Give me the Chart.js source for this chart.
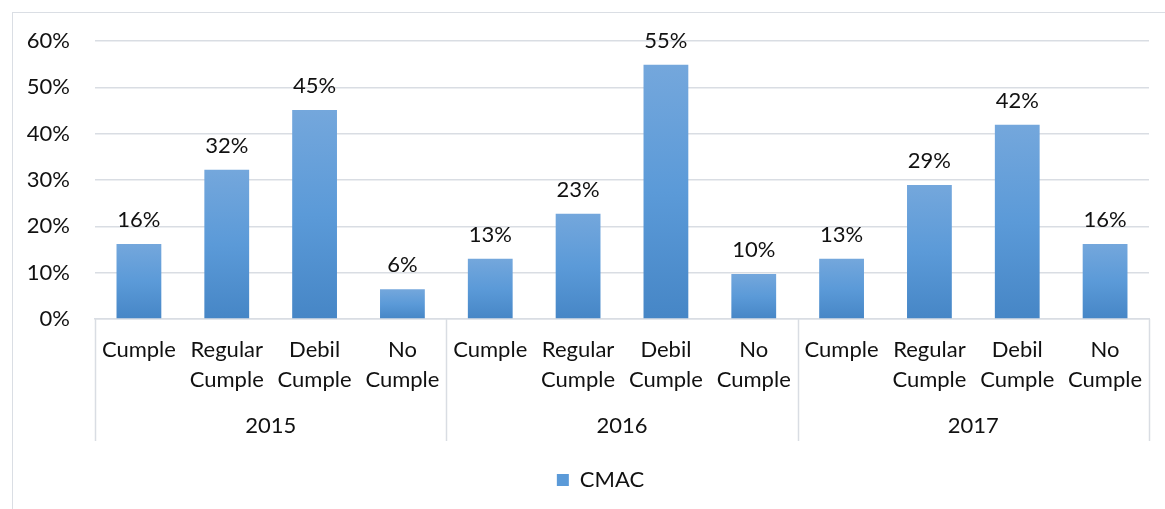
<!DOCTYPE html>
<html>
<head>
<meta charset="utf-8">
<script src="https://cdn.jsdelivr.net/npm/chart.js@4/dist/chart.umd.min.js"></script>
<style>
  html, body { margin: 0; padding: 0; background: #fff; overflow: hidden; }
  #frame { position: absolute; left: 12px; top: 12px; width: 1300px; height: 700px; border: 1px solid #dadee4; box-sizing: border-box; }
  #wrap { position: absolute; left: 0; top: 0; width: 1165px; height: 509px; }
</style>
</head>
<body>
<div id="frame"></div>
<div id="wrap"><canvas id="chart" width="1165" height="509"></canvas></div>
<script>
// data
const YEARS = ['2015', '2016', '2017']
const CATEGORIES = [
  ['Cumple'], ['Regular', 'Cumple'], ['Debil', 'Cumple'], ['No', 'Cumple'],
  ['Cumple'], ['Regular', 'Cumple'], ['Debil', 'Cumple'], ['No', 'Cumple'],
  ['Cumple'], ['Regular', 'Cumple'], ['Debil', 'Cumple'], ['No', 'Cumple'],
]
const CMAC = [16.2, 32.2, 45.1, 6.4, 13.0, 22.7, 54.9, 9.7, 13.0, 28.9, 41.9, 16.2]
const Y_TICKS = [0, 10, 20, 30, 40, 50, 60]

const FONT = "Lato, 'Open Sans', sans-serif"
const TEXT = '#111111'
const GRID = '#d9dde3'
const BAR_TOP = '#74a7dc'
const BAR_MID = '#5b9ad8'
const BAR_BOT = '#4686c6'
const PER_GROUP = 4

Chart.defaults.font.family = FONT
Chart.defaults.color = TEXT

function barGradient(ctx) {
  const chart = ctx.chart
  if (!chart.chartArea || ctx.parsed == null) return BAR_MID
  const y = chart.scales.y
  const top = y.getPixelForValue(ctx.parsed.y)
  const bottom = y.getPixelForValue(0)
  const g = chart.ctx.createLinearGradient(0, top, 0, bottom)
  g.addColorStop(0, BAR_TOP)
  g.addColorStop(0.5, BAR_MID)
  g.addColorStop(1, BAR_BOT)
  return g
}

// value labels above bars
const valueLabels = {
  id: 'valueLabels',
  afterDatasetsDraw(chart) {
    const { ctx } = chart
    const meta = chart.getDatasetMeta(0)
    ctx.save()
    ctx.font = `22px ${FONT}`
    ctx.fillStyle = TEXT
    ctx.textAlign = 'center'
    ctx.textBaseline = 'alphabetic'
    meta.data.forEach((bar, i) => {
      ctx.fillText(Math.round(CMAC[i]) + '%', bar.x, bar.y - 17)
    })
    ctx.restore()
  }
}

// second level of the category axis: year groups and separators
const groupAxis = {
  id: 'groupAxis',
  afterDraw(chart) {
    const { ctx } = chart
    const x = chart.scales.x
    const top = chart.chartArea.bottom
    const bottom = top + 122
    const edges = []
    for (let g = 0; g <= YEARS.length; g++) {
      const i = g * PER_GROUP
      if (i === 0) edges.push(x.left)
      else if (i >= CATEGORIES.length) edges.push(x.right)
      else edges.push((x.getPixelForValue(i - 1) + x.getPixelForValue(i)) / 2)
    }
    ctx.save()
    ctx.strokeStyle = GRID
    ctx.lineWidth = 1.5
    edges.forEach(e => {
      ctx.beginPath()
      ctx.moveTo(Math.round(e) + 0.5, top)
      ctx.lineTo(Math.round(e) + 0.5, bottom)
      ctx.stroke()
    })
    ctx.font = `22px ${FONT}`
    ctx.fillStyle = TEXT
    ctx.textAlign = 'center'
    ctx.textBaseline = 'middle'
    YEARS.forEach((yr, g) => {
      ctx.fillText(yr, (edges[g] + edges[g + 1]) / 2, top + 107)
    })
    ctx.restore()
  }
}

// centre the legend under the plot area rather than the whole canvas
const legendShift = {
  id: 'legendShift',
  afterLayout(chart) {
    if (chart.legend) chart.legend.left = 52
  }
}

new Chart(document.getElementById('chart'), {
  type: 'bar',
  data: {
    labels: CATEGORIES,
    datasets: [{
      label: 'CMAC',
      data: CMAC,
      backgroundColor: barGradient,
      borderWidth: 0,
      barPercentage: 0.51,
      categoryPercentage: 1,
    }]
  },
  options: {
    responsive: false,
    animation: false,
    layout: { padding: { left: 0, right: 16, top: 41, bottom: 8 } },
    scales: {
      x: {
        grid: { display: false, drawTicks: false },
        border: { display: true, color: GRID, width: 1.5 },
        ticks: {
          autoSkip: false,
          maxRotation: 0,
          padding: 16,
          color: TEXT,
          font: { size: 22, lineHeight: 1.36 },
        },
        afterFit(scale) { scale.height = 140 },
      },
      y: {
        min: 0,
        max: 60,
        afterBuildTicks(scale) { scale.ticks = Y_TICKS.map(v => ({ value: v })) },
        grid: { color: GRID, lineWidth: 1.5, drawTicks: false },
        border: { display: false },
        ticks: {
          padding: 25,
          color: TEXT,
          font: { size: 22 },
          callback: v => v + '%',
        },
        afterFit(scale) { scale.width = 95 },
      },
    },
    plugins: {
      legend: {
        display: true,
        position: 'bottom',
        labels: {
          color: TEXT,
          font: { size: 22 },
          boxWidth: 12,
          boxHeight: 12,
          padding: 10,
          generateLabels(chart) {
            return Chart.defaults.plugins.legend.labels.generateLabels(chart)
              .map(l => ({ ...l, fillStyle: BAR_MID, strokeStyle: BAR_MID, lineWidth: 0 }))
          },
        },
      },
      tooltip: { enabled: false },
    },
  },
  plugins: [valueLabels, groupAxis, legendShift],
})
</script>
</body>
</html>
